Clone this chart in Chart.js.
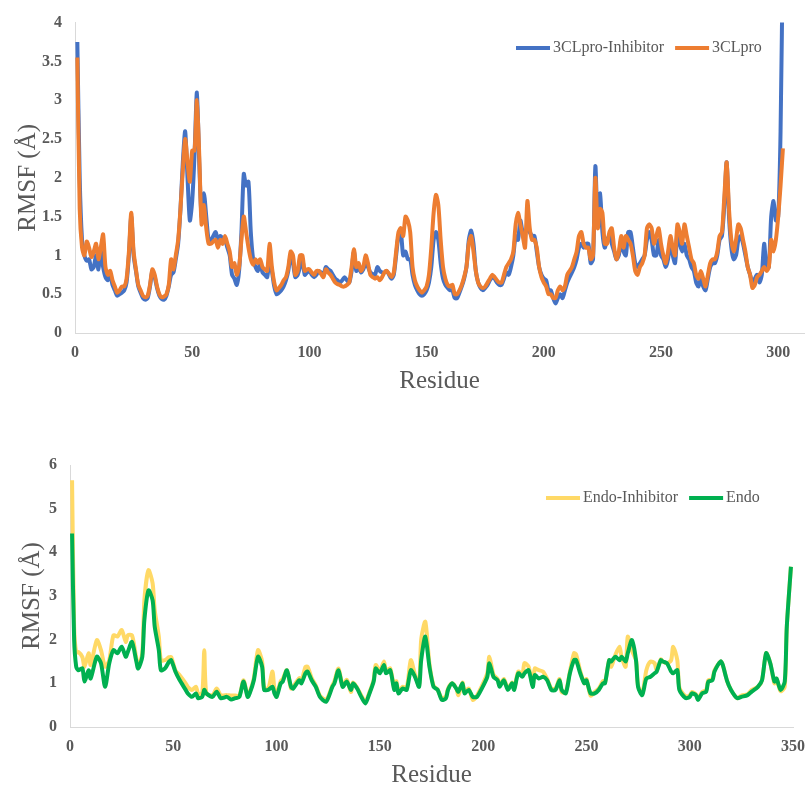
<!DOCTYPE html>
<html lang="en">
<head>
<meta charset="UTF-8">
<title>RMSF - 3CLpro and Endo</title>
<script src="https://cdn.jsdelivr.net/npm/chart.js@4.4.1/dist/chart.umd.min.js"></script>
<style>
    html, body { margin: 0; padding: 0; background: #fff; overflow: hidden; }
    #topChart { position: absolute; left: 0; top: 0; }
    #bottomChart { position: absolute; left: 0; top: 440px; }
</style>
</head>
<body>
<canvas id="topChart" width="807" height="400"></canvas>
<canvas id="bottomChart" width="807" height="350"></canvas>

<script>
// ---- top panel: 3CLpro, residues 1..302 (one value per residue) ----
const inhibitor3CL = [
    3.75, 2.0, 1.2, 1.0, 0.93, 0.95, 0.82, 0.85, 1.0, 0.82,
    1.05, 0.85, 0.72, 0.68, 0.75, 0.62, 0.55, 0.48, 0.5, 0.52,
    0.55, 0.65, 1.0, 1.5, 1.0, 0.8, 0.6, 0.52, 0.45, 0.43,
    0.45, 0.6, 0.8, 0.72, 0.58, 0.48, 0.44, 0.43, 0.48, 0.6,
    0.75, 0.78, 0.95, 1.15, 1.6, 2.2, 2.6, 2.0, 1.45, 1.7,
    2.3, 3.1, 2.2, 1.5, 1.8, 1.5, 1.2, 1.2, 1.25, 1.3,
    1.2, 1.25, 1.22, 1.2, 1.1, 1.0, 0.75, 0.7, 0.62, 0.8,
    1.3, 2.05, 1.9, 1.95, 1.3, 0.95, 0.85, 0.8, 0.9, 0.78,
    0.75, 0.72, 0.95, 0.8, 0.6, 0.5, 0.52, 0.55, 0.6, 0.68,
    0.8, 1.0, 0.9, 0.72, 0.75, 0.85, 0.95, 0.75, 0.78, 0.8,
    0.75, 0.72, 0.75, 0.8, 0.78, 0.75, 0.85, 0.82, 0.8, 0.75,
    0.7, 0.68, 0.65, 0.68, 0.72, 0.68, 0.65, 0.8, 1.05, 0.8,
    0.85, 0.78, 0.82, 0.9, 0.85, 0.78, 0.76, 0.75, 0.85, 0.8,
    0.78, 0.78, 0.8, 0.75, 0.7, 0.75, 1.0, 1.25, 1.3, 1.0,
    1.05, 0.95, 0.95, 0.75, 0.62, 0.55, 0.5, 0.48, 0.5, 0.55,
    0.65, 0.85, 1.2, 1.3, 1.2, 0.9, 0.7, 0.62, 0.58, 0.55,
    0.55, 0.45, 0.45, 0.52, 0.6, 0.7, 0.85, 1.2, 1.32, 1.15,
    0.8, 0.65, 0.58, 0.55, 0.58, 0.62, 0.68, 0.72, 0.7, 0.65,
    0.62, 0.62, 0.7, 0.78, 0.75, 0.85, 1.0, 1.25, 1.2, 1.45,
    1.3, 1.3, 1.35, 1.3, 1.25, 1.25, 1.05, 0.85, 0.75, 0.7,
    0.68, 0.55, 0.55, 0.45, 0.38, 0.45, 0.5, 0.45, 0.55, 0.65,
    0.72, 0.78, 0.85, 0.95, 1.1, 1.15, 1.1, 1.15, 1.15, 0.9,
    0.95, 2.15, 1.4, 1.8, 1.3, 1.1, 1.2, 1.25, 1.15, 1.05,
    0.95, 1.0, 1.2, 1.05, 1.0, 1.3, 1.3, 1.1, 0.9, 0.85,
    0.9, 0.95, 1.0, 1.2, 1.3, 1.2, 1.0, 1.0, 1.2, 1.0,
    0.95, 0.85, 0.95, 1.2, 1.0, 0.9, 1.3, 1.15, 1.05, 1.15,
    1.0, 0.95, 0.85, 0.8, 0.65, 0.6, 0.7, 0.6, 0.55, 0.7,
    0.85, 0.9, 0.9, 1.0, 1.2, 1.25, 1.65, 2.2, 1.5, 1.1,
    0.95, 1.0, 1.2, 1.25, 1.15, 1.0, 0.85, 0.75, 0.65, 0.7,
    0.75, 0.65, 0.75, 1.15, 0.85, 0.85, 1.5, 1.7, 1.45, 1.5,
    2.6, 5.0
];
const apo3CL = [
    3.55, 1.6, 1.1, 1.0, 1.18, 1.1, 0.98, 1.05, 1.15, 0.95,
    1.1, 1.27, 0.85, 0.75, 0.8, 0.68, 0.6, 0.52, 0.55, 0.6,
    0.6, 0.7, 1.05, 1.55, 1.05, 0.82, 0.62, 0.55, 0.48, 0.46,
    0.48, 0.62, 0.82, 0.75, 0.6, 0.5, 0.46, 0.47, 0.5, 0.62,
    0.95, 0.82, 1.0, 1.2, 1.6, 2.1, 2.5, 2.2, 1.95, 2.35,
    2.35, 3.0, 2.3, 1.4, 1.65, 1.35, 1.15, 1.15, 1.18, 1.2,
    1.1, 1.2, 1.15, 1.25, 1.15, 1.05, 0.85, 0.9, 0.75, 0.85,
    1.2, 1.5, 1.3, 1.1, 0.95, 0.88, 0.95, 0.9, 0.95, 0.85,
    0.82, 0.8, 1.15, 0.85, 0.65, 0.55, 0.58, 0.62, 0.68, 0.72,
    0.85, 1.05, 1.0, 0.75, 0.8, 1.0, 1.0, 0.8, 0.82, 0.82,
    0.78, 0.75, 0.8, 0.8, 0.76, 0.72, 0.82, 0.78, 0.75, 0.7,
    0.65, 0.63, 0.62, 0.6, 0.6, 0.62, 0.65, 0.85, 1.08, 0.85,
    0.9, 0.8, 0.85, 1.0, 0.9, 0.75, 0.72, 0.7, 0.72, 0.68,
    0.72, 0.78, 0.8, 0.76, 0.72, 0.78, 1.05, 1.3, 1.35, 1.25,
    1.5, 1.45, 1.3, 0.85, 0.68, 0.6, 0.55, 0.52, 0.55, 0.6,
    0.75, 1.1, 1.55, 1.78, 1.65, 1.2, 0.85, 0.7, 0.62, 0.6,
    0.62, 0.5, 0.5, 0.55, 0.62, 0.72, 0.85, 1.15, 1.25, 1.05,
    0.8, 0.65, 0.6, 0.58, 0.6, 0.65, 0.7, 0.75, 0.72, 0.68,
    0.65, 0.65, 0.75, 0.85, 0.9, 0.95, 1.05, 1.4, 1.55, 1.4,
    1.25, 1.1, 1.7, 1.35, 1.2, 1.2, 1.1, 0.85, 0.72, 0.65,
    0.6, 0.5, 0.5, 0.45, 0.45, 0.55, 0.6, 0.55, 0.6, 0.75,
    0.8, 0.85, 0.95, 1.05, 1.25, 1.3, 1.15, 1.1, 1.1, 0.95,
    1.0, 2.0, 1.35, 1.6, 1.55, 1.15, 1.15, 1.3, 1.35, 1.1,
    0.95, 1.05, 1.25, 1.1, 1.25, 1.2, 1.15, 1.0, 0.8, 0.75,
    0.85, 0.9, 1.0, 1.35, 1.4, 1.35, 1.15, 1.25, 1.35, 1.15,
    1.0, 0.9, 1.05, 1.25, 1.1, 1.0, 1.4, 1.3, 1.15, 1.4,
    1.25, 1.1, 0.95, 0.9, 0.75, 0.7, 0.8, 0.7, 0.6, 0.75,
    0.9, 0.95, 0.95, 1.05, 1.25, 1.3, 1.75, 2.2, 1.6, 1.2,
    1.05, 1.2, 1.4, 1.35, 1.2, 1.05, 0.85, 0.75, 0.58, 0.62,
    0.72, 0.75, 0.8, 0.85, 0.8, 0.85, 1.2, 1.05, 1.2, 1.5,
    1.9, 2.38
];
const topResidues = inhibitor3CL.map((v, i) => i + 1);

// ---- bottom panel: Endo, read at these residues ----
const endoResidues = [
    1, 2, 3, 4, 6, 7, 9, 10, 13, 15, 17, 19, 21, 23, 25, 27, 28, 30, 32, 33,
    35, 36, 38, 40, 41, 43, 44, 46, 48, 49, 51, 53, 56, 57, 59, 61, 62, 64, 65, 66,
    69, 71, 73, 76, 78, 80, 82, 84, 86, 87, 89, 91, 93, 94, 96, 98, 99, 100, 102, 103,
    105, 107, 108, 111, 112, 114, 115, 117, 119, 121, 124, 127, 128, 130, 132, 134, 136, 137, 139, 141,
    143, 145, 147, 148, 150, 152, 153, 155, 157, 158, 159, 161, 163, 165, 167, 169, 170, 172, 174, 176,
    178, 180, 182, 183, 185, 187, 188, 190, 191, 193, 195, 197, 199, 202, 203, 205, 207, 208, 210, 212,
    214, 215, 217, 219, 220, 222, 224, 225, 227, 229, 231, 233, 235, 237, 238, 240, 242, 244, 245, 247,
    249, 250, 252, 254, 256, 258, 259, 261, 262, 264, 266, 267, 269, 270, 272, 274, 275, 277, 279, 281,
    283, 284, 286, 287, 289, 291, 292, 294, 295, 298, 300, 301, 303, 304, 306, 308, 309, 311, 312, 315,
    316, 318, 320, 323, 325, 328, 330, 333, 335, 337, 339, 341, 342, 344, 346, 347, 349
];
const endoInhibitor = [
    5.65, 2.3, 1.7, 1.72, 1.6, 1.38, 1.69, 1.42, 1.99, 1.76, 1.38, 1.53, 2.1, 2.07, 2.22, 1.95, 2.1, 2.1, 1.6, 1.38,
    1.69, 2.9, 3.59, 3.29, 2.68, 2.07, 1.53, 1.53, 1.6, 1.6, 1.3, 1.19, 1.0, 0.92, 0.85, 0.92, 0.77, 0.77, 1.76, 0.77,
    0.73, 0.88, 0.73, 0.73, 0.72, 0.72, 0.72, 1.07, 0.72, 0.8, 1.12, 1.76, 1.5, 0.9, 0.88, 1.27, 0.85, 0.75, 1.05, 1.1,
    1.3, 0.88, 0.92, 1.12, 1.05, 1.38, 1.38, 1.12, 0.95, 0.72, 0.62, 0.95, 1.05, 1.34, 0.95, 1.08, 0.8, 1.02, 0.9, 0.72,
    0.58, 0.8, 1.08, 1.42, 1.28, 1.5, 1.28, 1.34, 0.9, 1.05, 0.8, 0.92, 0.9, 1.53, 1.2, 0.95, 2.0, 2.41, 1.45, 0.95,
    0.85, 0.66, 0.7, 0.88, 1.0, 0.88, 0.73, 1.02, 0.8, 0.88, 0.62, 0.72, 0.9, 1.23, 1.61, 1.2, 1.1, 0.95, 1.1, 0.88,
    1.02, 0.88, 1.27, 1.2, 1.46, 1.38, 0.95, 1.34, 1.3, 1.27, 1.1, 0.88, 0.88, 1.1, 0.8, 0.8, 1.27, 1.69, 1.66, 1.28,
    1.0, 1.1, 0.72, 0.8, 0.88, 1.05, 1.02, 1.53, 1.38, 1.65, 1.84, 1.61, 1.38, 2.07, 1.75, 1.53, 0.95, 0.76, 1.3, 1.5,
    1.46, 1.3, 1.55, 1.5, 1.46, 1.53, 1.84, 1.53, 0.9, 0.7, 0.72, 0.8, 0.75, 0.65, 0.8, 0.85, 1.07, 1.1, 1.3, 1.5,
    1.42, 1.07, 0.85, 0.66, 0.72, 0.75, 0.85, 0.92, 1.07, 1.69, 1.46, 1.0, 1.11, 0.82, 0.92, 2.3, 3.67
];
const endoApo = [
    4.43, 2.0, 1.38, 1.3, 1.34, 1.04, 1.3, 1.11, 1.61, 1.46, 0.92, 1.46, 1.76, 1.69, 1.84, 1.61, 1.72, 1.95, 1.53, 1.34,
    1.61, 2.45, 3.13, 2.9, 2.3, 1.76, 1.3, 1.34, 1.5, 1.53, 1.27, 1.08, 0.85, 0.77, 0.69, 0.77, 0.66, 0.69, 0.85, 0.77,
    0.69, 0.81, 0.66, 0.69, 0.63, 0.66, 0.69, 1.04, 0.69, 0.77, 1.07, 1.61, 1.38, 0.85, 0.85, 0.92, 0.77, 0.69, 1.0, 1.04,
    1.3, 0.92, 0.88, 1.07, 1.0, 1.23, 1.27, 1.07, 0.92, 0.69, 0.58, 0.92, 1.0, 1.3, 0.92, 1.04, 0.85, 1.0, 0.88, 0.69,
    0.54, 0.77, 1.04, 1.34, 1.23, 1.42, 1.23, 1.3, 0.85, 1.0, 0.77, 0.88, 0.85, 1.3, 1.15, 0.92, 1.53, 2.07, 1.38, 0.92,
    0.85, 0.62, 0.66, 0.85, 1.0, 0.88, 0.81, 1.0, 0.77, 0.85, 0.69, 0.69, 0.85, 1.15, 1.46, 1.15, 1.07, 0.92, 1.07, 0.85,
    1.0, 0.85, 1.23, 1.15, 1.23, 1.3, 0.92, 1.19, 1.11, 1.15, 1.07, 0.85, 0.85, 1.07, 0.85, 0.77, 1.23, 1.53, 1.53, 1.23,
    1.0, 1.07, 0.77, 0.77, 0.85, 1.0, 1.0, 1.53, 1.5, 1.61, 1.53, 1.61, 1.5, 1.69, 1.99, 1.53, 0.92, 0.73, 1.11, 1.15,
    1.23, 1.27, 1.53, 1.5, 1.46, 1.27, 1.23, 1.3, 0.85, 0.66, 0.69, 0.77, 0.73, 0.62, 0.77, 0.81, 1.04, 1.07, 1.27, 1.5,
    1.42, 1.07, 0.85, 0.66, 0.69, 0.73, 0.81, 0.92, 1.07, 1.69, 1.46, 1.04, 1.11, 0.85, 1.04, 2.3, 3.67
];

const xTicksStep = 50;
const serif = '"Liberation Serif", "Times New Roman", serif';
const grey = '#595959';

function points(xs, ys) {
    return xs.map((x, i) => ({ x: x, y: ys[i] }));
}

// legend drawn inside the plot area, top right, like the original
const inlineLegend = {
    id: 'inlineLegend',
    afterDraw(chart, args, opts) {
        const ctx = chart.ctx;
        ctx.save();
        ctx.font = '16px ' + serif;
        ctx.textBaseline = 'middle';
        let x = opts.x;
        chart.data.datasets.forEach(ds => {
            ctx.strokeStyle = ds.borderColor;
            ctx.lineWidth = 4;
            ctx.beginPath();
            ctx.moveTo(x, opts.y);
            ctx.lineTo(x + 34, opts.y);
            ctx.stroke();
            ctx.fillStyle = grey;
            ctx.fillText(ds.label, x + 37, opts.y);
            x += 37 + ctx.measureText(ds.label).width + 11;
        });
        ctx.restore();
    }
};

function rmsfChart(id, cfg) {
    return new Chart(document.getElementById(id), {
        type: 'line',
        data: { datasets: cfg.datasets },
        options: {
            responsive: false,
            animation: false,
            devicePixelRatio: 1,
            layout: { padding: cfg.padding },
            elements: {
                point: { radius: 0 },
                line: { borderWidth: 4, tension: 0.25 }
            },
            plugins: {
                legend: { display: false },
                tooltip: { enabled: false },
                inlineLegend: cfg.legend
            },
            scales: {
                x: {
                    type: 'linear',
                    min: 0,
                    max: cfg.xMax,
                    grid: { display: false, drawTicks: false },
                    border: { color: '#d9d9d9', width: 1 },
                    ticks: {
                        stepSize: xTicksStep, includeBounds: false, padding: 10, color: grey,
                        font: { family: serif, size: 16, weight: 'bold' }
                    },
                    title: {
                        display: true, text: 'Residue', color: grey, padding: 0,
                        font: { family: serif, size: 25 }
                    },
                    afterFit: s => { s.height = 63; s.paddingLeft = 0; s.paddingRight = 0; }
                },
                y: {
                    min: 0,
                    max: cfg.yMax,
                    grid: { display: false, drawTicks: false },
                    border: { color: '#d9d9d9', width: 1 },
                    ticks: {
                        stepSize: cfg.yStep, padding: 13, color: grey,
                        font: { family: serif, size: 16, weight: 'bold' },
                        callback: v => String(v)
                    },
                    title: {
                        display: true, text: 'RMSF (Å)', color: grey,
                        padding: { top: cfg.yTitlePad, bottom: 0 },
                        font: { family: serif, size: 25 }
                    },
                    afterFit: s => { s.width = cfg.yWidth; }
                }
            }
        },
        plugins: [inlineLegend]
    });
}

rmsfChart('topChart', {
    xMax: 311, yMax: 4, yStep: 0.5, yWidth: 75, yTitlePad: 13,
    padding: { left: 0, right: 3, top: 20, bottom: 4 },
    legend: { x: 516, y: 48 },
    datasets: [
        { label: '3CLpro-Inhibitor', data: points(topResidues, inhibitor3CL), borderColor: '#4472C4', order: 1 },
        { label: '3CLpro', data: points(topResidues, apo3CL), borderColor: '#ED7D31', order: 0 }
    ]
});

rmsfChart('bottomChart', {
    xMax: 350, yMax: 6, yStep: 1, yWidth: 70, yTitlePad: 17,
    padding: { left: 0, right: 14, top: 25, bottom: 0 },
    legend: { x: 546, y: 58 },
    datasets: [
        { label: 'Endo-Inhibitor', data: points(endoResidues, endoInhibitor), borderColor: '#FFD966', order: 1 },
        { label: 'Endo', data: points(endoResidues, endoApo), borderColor: '#00B050', order: 0 }
    ]
});
</script>
</body>
</html>
